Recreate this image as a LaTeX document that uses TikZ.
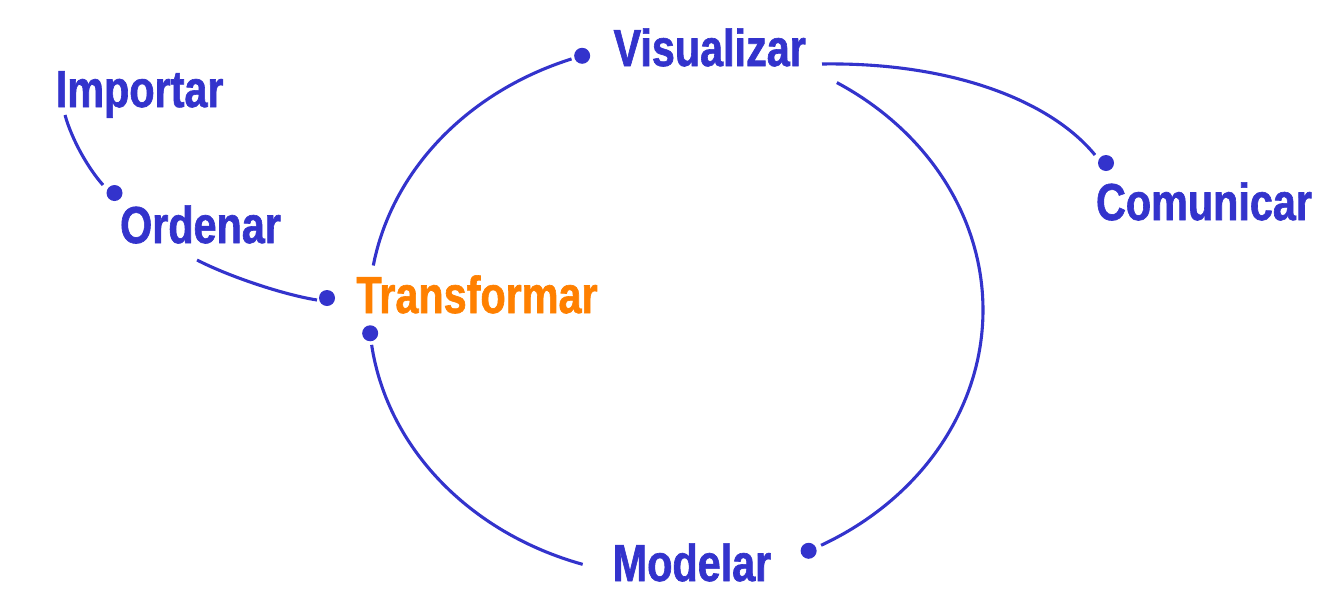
\documentclass[tikz,border=0pt]{standalone}
\usepackage{fontspec}
\setmainfont{Liberation Sans}[FakeStretch=0.795, BoldFeatures={FakeBold=1.2}]
\usetikzlibrary{calc}
\definecolor{cycleblue}{RGB}{51,51,204}
\definecolor{focusorange}{RGB}{255,128,0}
\begin{document}
\begin{tikzpicture}[x=1pt,y=-1pt,
  stage/.style={font=\fontsize{52}{52}\selectfont\bfseries, text=cycleblue, inner sep=0pt, anchor=base},
  link/.style={draw=cycleblue, line width=3.1pt},
  dot/.style={circle, fill=cycleblue, inner sep=0pt, minimum size=16pt}]
\useasboundingbox (0,0) rectangle (1336,614);

% stage labels
\node[stage] (importar) at (139.7,107) {Importar};
\node[stage] (ordenar) at (200.5,243) {Ordenar};
\node[stage, text=focusorange] (transformar) at (477,313) {Transformar};
\node[stage] (visualizar) at (709.7,66) {Visualizar};
\node[stage] (comunicar) at (1204,220) {Comunicar};
\node[stage] (modelar) at (692,581) {Modelar};

% the main cycle: three arcs of one ellipse, centre (676,310), radii 307 x 267
\def\cx{676}\def\cy{310}\def\ra{307}\def\rb{267}
\draw[link] plot[domain=189.6:250.1, samples=80, smooth] ({\cx+\ra*cos(\x)},{\cy+\rb*sin(\x)});
\node[dot] (tovis) at ({\cx+\ra*cos(252.2)},{\cy+\rb*sin(252.2)}) {};
\draw[link] plot[domain=-58.4:61.8, samples=120, smooth] ({\cx+\ra*cos(\x)},{\cy+\rb*sin(\x)});
\node[dot] (tomod) at ({\cx+\ra*cos(64.4)},{\cy+\rb*sin(64.4)}) {};
\draw[link] plot[domain=107.7:172.5, samples=80, smooth] ({\cx+\ra*cos(\x)},{\cy+\rb*sin(\x)});
\node[dot] (totra) at ({\cx+\ra*cos(175)},{\cy+\rb*sin(175)}) {};

% side branches
\coordinate (impout) at (65,115);
\coordinate (ordin) at (103,185);
\node[dot] (toord) at (114.5,193) {};
\draw[link] (impout) .. controls (72,140) and (88,168) .. (ordin);

\coordinate (ordout) at (197,260);
\coordinate (train) at (317,300);
\node[dot] (totrf) at (327,298) {};
\draw[link] (ordout) .. controls (230,277) and (285,295) .. (train);

\coordinate (visout) at (822,64);
\coordinate (comin) at (1095,155);
\node[dot] (tocom) at (1106,163) {};
\draw[link] (visout) .. controls (950,62) and (1050,100) .. (comin);
\end{tikzpicture}
\end{document}
